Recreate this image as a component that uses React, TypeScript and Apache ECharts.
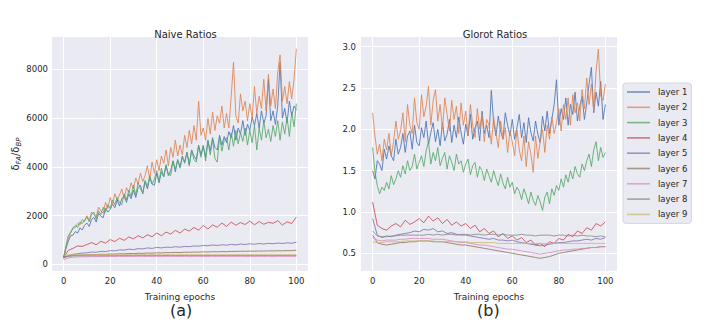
import React, { useEffect, useRef } from "react";
import * as echarts from "echarts";

// ---------- tick labels ----------
const xTicks = [0, 20, 40, 60, 80, 100];
const naiveYTicks = [0, 2000, 4000, 6000, 8000];
const glorotYTicks = [0.5, 1.0, 1.5, 2.0, 2.5, 3.0];

const layerNames = ["layer 1", "layer 2", "layer 3", "layer 4", "layer 5", "layer 6", "layer 7", "layer 8", "layer 9"];
const layerColors = ["#4c72b0", "#dd8452", "#55a868", "#c44e52", "#8172b3", "#937860", "#da8bc3", "#8c8c8c", "#ccb974"];

// ---------- Naive ratios (epochs 0..100, step 1 for layers 1-3) ----------
const naiveL1 = [
  300, 650, 950, 1180, 1200, 1350, 1290, 1500, 1420, 1610,
  1700, 1560, 1850, 1930, 1740, 2100, 1980, 1920, 2300, 2150,
  2250, 2480, 2330, 2650, 2400, 2700, 2820, 2550, 2900, 2700,
  3050, 2750, 3150, 3250, 2900, 3400, 3100, 3550, 3300, 3250,
  3750, 3350, 3800, 3600, 4050, 3650, 3850, 4250, 3800, 4300,
  4000, 4450, 4200, 4600, 4100, 4700, 4450, 4300, 4900, 4500,
  4850, 4400, 5100, 4650, 5200, 4800, 4700, 5300, 4900, 5250,
  5000, 5450, 5200, 5700, 5100, 5600, 5350, 5900, 5300, 5750,
  5500, 6050, 5700, 6200, 5600, 6300, 5800, 6100, 7600, 5900,
  6300, 5750, 6500, 8300, 6000, 6400, 5800, 6700, 6100, 6500,
  6350,
];
const naiveL2 = [
  300, 720, 1080, 1280, 1480, 1520, 1680, 1620, 1850, 1760,
  2000, 1800, 2150, 2050, 1950, 2350, 2200, 2100, 2550, 2300,
  2750, 2450, 2900, 2650, 2850, 3100, 2700, 3150, 2950, 3350,
  3100, 3550, 3300, 3750, 3400, 3650, 4050, 3500, 4200, 3750,
  4300, 3850, 4450, 4150, 4700, 4050, 4800, 4400, 5100, 4450,
  4900, 4500, 5300, 4800, 5500, 4950, 5700, 5100, 6700, 5300,
  5600, 5100, 6000, 5350, 6250, 5500, 6100, 5800, 6500, 5600,
  6200, 5600, 6900, 8300, 6100, 5800, 7000, 6300, 6700, 5900,
  6600, 6000, 7300, 6200, 6900, 6400, 7600, 6300, 7800, 6500,
  7200, 6400, 7900, 8600, 6700, 7300, 6600, 7500, 6800, 7600,
  8850,
];
const naiveL3 = [
  250, 760, 1180, 1330, 1500, 1600, 1520, 1750, 1680, 1830,
  1950, 1750, 2050, 2150, 1850, 2200, 2050, 2350, 2150, 2450,
  2300, 2650, 2450, 2750, 2550, 2450, 2900, 2650, 3050, 2800,
  3250, 2850, 3350, 3100, 2950, 3450, 3200, 3650, 3300, 3500,
  3850, 3400, 3950, 3600, 4100, 3700, 3650, 4250, 3900, 4300,
  3950, 4400, 4150, 4600, 4050, 4700, 4300, 4200, 4850, 4400,
  4900, 4250, 5050, 4500, 5150, 4350, 4200, 5250, 4650, 5100,
  5200, 4700, 5400, 4850, 5500, 4950, 5400, 5050, 5600, 4900,
  5500, 5000, 5700, 4700, 5600, 5100, 5900, 5200, 5550, 5050,
  5700, 5250, 5900, 5100, 5850, 5350, 6050, 5250, 6250, 5650,
  6600,
];
// layers 4-9: every 2 epochs (0, 2, ..., 100)
const naiveL4 = [
  300, 580, 660, 760, 740, 820, 900, 810, 950, 880,
  1020, 940, 1080, 990, 1130, 1050, 1180, 1090, 1220, 1140,
  1290, 1180, 1330, 1250, 1400, 1290, 1450, 1370, 1520, 1410,
  1600, 1460, 1620, 1530, 1700, 1560, 1740, 1610, 1720, 1640,
  1780, 1630, 1760, 1650, 1730, 1690, 1800, 1620, 1750, 1680,
  1950,
];
const naiveL5 = [
  280, 360, 420, 440, 470, 480, 510, 500, 540, 530,
  570, 560, 600, 590, 630, 610, 650, 640, 680, 660,
  700, 680, 710, 700, 730, 710, 740, 730, 760, 750,
  780, 770, 800, 780, 810, 790, 830, 800, 840, 820,
  850, 830, 860, 840, 870, 850, 880, 860, 890, 870,
  920,
];
const naiveL6 = [
  330, 350, 370, 380, 390, 400, 410, 405, 420, 415,
  430, 425, 440, 435, 450, 445, 460, 455, 470, 465,
  480, 475, 490, 485, 495, 490, 505, 500, 510, 505,
  520, 515, 525, 520, 530, 525, 540, 535, 545, 540,
  550, 545, 555, 550, 560, 555, 565, 560, 570, 565,
  590,
];
const naiveL7 = [
  200, 270, 300, 310, 320, 315, 325, 320, 330, 325,
  330, 328, 335, 330, 334, 330, 336, 332, 334, 330,
  335, 331, 336, 332, 334, 330, 336, 331, 335, 330,
  334, 330, 336, 332, 335, 330, 334, 331, 336, 332,
  335, 330, 334, 331, 336, 330, 335, 332, 334, 330,
  336,
];
const naiveL8 = [
  280, 330, 350, 355, 360, 358, 362, 360, 365, 362,
  366, 363, 368, 364, 367, 365, 369, 366, 368, 365,
  370, 366, 369, 367, 371, 368, 370, 366, 369, 367,
  371, 368, 370, 366, 369, 367, 371, 368, 370, 366,
  369, 367, 371, 368, 370, 366, 369, 367, 371, 368,
  370,
];
const naiveL9 = [
  380, 395, 400, 402, 398, 401, 399, 403, 400, 398,
  402, 400, 399, 401, 403, 398, 400, 402, 399, 401,
  400, 398, 402, 400, 399, 401, 403, 398, 400, 402,
  399, 401, 400, 398, 402, 400, 399, 401, 403, 398,
  400, 402, 399, 401, 400, 398, 402, 400, 399, 401,
  400,
];

// ---------- Glorot ratios ----------
const glorotL1 = [
  1.50, 1.40, 1.62, 1.58, 1.50, 1.76, 1.64, 1.80, 1.68, 1.62,
  1.88, 1.70, 1.78, 1.95, 1.72, 1.92, 1.98, 1.76, 2.05, 1.84,
  1.80, 2.02, 1.90, 2.10, 1.82, 1.96, 2.08, 1.85, 2.00, 1.80,
  2.08, 1.86, 1.94, 2.12, 1.84, 2.05, 1.90, 2.15, 1.96, 1.82,
  2.06, 1.92, 2.18, 1.88, 2.02, 2.10, 1.86, 2.22, 1.95, 2.05,
  1.90, 2.47, 2.08, 1.92, 2.16, 1.98, 1.88, 2.20, 2.05, 1.92,
  2.12, 1.88, 2.02, 2.18, 1.90, 2.08, 1.84, 2.14, 1.96, 1.86,
  2.10, 1.94, 1.84, 2.16, 1.98, 2.22, 1.95, 2.12, 2.30, 2.60,
  2.05, 2.25, 2.12, 2.38, 2.05, 2.30, 2.18, 2.45, 2.10, 2.28,
  2.40, 2.12, 2.32, 2.55, 2.75, 2.20, 2.45, 2.28, 2.58, 2.12,
  2.30,
];
const glorotL2 = [
  2.20, 1.92, 1.70, 1.82, 1.62, 1.88, 1.75, 1.95, 1.68, 1.85,
  2.10, 1.88, 1.98, 2.20, 1.85, 2.30, 2.05, 1.95, 2.38, 2.08,
  2.00, 2.42, 2.15, 2.28, 2.52, 2.05, 2.35, 2.48, 2.10, 2.30,
  2.00, 2.38, 2.18, 1.98, 2.35, 2.12, 2.28, 1.95, 2.32, 2.05,
  2.22, 1.92, 2.30, 2.05, 1.90, 2.25, 2.00, 2.18, 1.85, 2.12,
  2.05, 1.82, 2.15, 1.95, 1.78, 2.10, 1.88, 2.02, 1.72, 1.98,
  1.85, 1.68, 2.00, 1.75, 1.62, 1.92, 1.55, 1.85, 1.70, 1.48,
  1.92, 1.65, 1.85, 2.00, 1.72, 2.05, 1.88, 2.15, 1.95, 2.08,
  2.25, 1.98, 2.30, 2.12, 2.38, 2.05, 2.42, 2.20, 2.32, 2.10,
  2.48, 2.25, 2.62, 2.30, 2.55, 2.22, 2.70, 2.97, 2.40, 2.35,
  2.55,
];
const glorotL3 = [
  1.78, 1.48, 1.32, 1.22, 1.30, 1.26, 1.36, 1.28, 1.44, 1.33,
  1.40, 1.50, 1.42, 1.56, 1.46, 1.62, 1.50, 1.55, 1.70, 1.52,
  1.60, 1.68, 1.55, 1.74, 1.85, 1.58, 1.72, 1.62, 1.78, 1.56,
  1.65, 1.72, 1.52, 1.68, 1.60, 1.50, 1.70, 1.58, 1.62, 1.48,
  1.58, 1.64, 1.45, 1.56, 1.60, 1.42, 1.55, 1.50, 1.38, 1.52,
  1.44, 1.36, 1.50, 1.40, 1.32, 1.46, 1.35, 1.28, 1.42, 1.30,
  1.36, 1.22, 1.30, 1.25, 1.15, 1.28, 1.20, 1.10, 1.24, 1.14,
  1.08, 1.20, 1.12, 1.02, 1.18, 1.24, 1.10, 1.28, 1.20, 1.32,
  1.26, 1.40, 1.30, 1.45, 1.36, 1.50, 1.40, 1.55, 1.46, 1.42,
  1.58, 1.50, 1.62, 1.70, 1.55, 1.75, 1.85, 1.62, 1.78, 1.66,
  1.72,
];
const glorotL4 = [
  1.12, 0.84, 0.80, 0.78, 0.83, 0.86, 0.82, 0.90, 0.85, 0.88,
  0.92, 0.87, 0.95, 0.89, 0.93, 0.86, 0.91, 0.84, 0.88, 0.83,
  0.86, 0.80, 0.84, 0.76, 0.80, 0.74, 0.77, 0.70, 0.74, 0.68,
  0.71, 0.66, 0.69, 0.63, 0.66, 0.60, 0.62, 0.58, 0.64, 0.62,
  0.68, 0.66, 0.73, 0.70, 0.77, 0.74, 0.81, 0.78, 0.86, 0.83,
  0.88,
];
const glorotL5 = [
  0.92, 0.72, 0.69, 0.71, 0.70, 0.72, 0.73, 0.74, 0.75, 0.77,
  0.76, 0.79, 0.78, 0.80, 0.76, 0.77, 0.74, 0.75, 0.73, 0.72,
  0.72, 0.71, 0.70, 0.69, 0.68, 0.67, 0.68, 0.66, 0.66, 0.65,
  0.66, 0.64, 0.63, 0.62, 0.61, 0.60, 0.59, 0.60, 0.61, 0.62,
  0.63, 0.63, 0.64, 0.65, 0.65, 0.66, 0.67, 0.66, 0.68, 0.67,
  0.69,
];
const glorotL6 = [
  0.72, 0.63, 0.61, 0.60, 0.61, 0.62, 0.63, 0.63, 0.64, 0.64,
  0.65, 0.65, 0.65, 0.64, 0.64, 0.64, 0.63, 0.62, 0.61, 0.60,
  0.60, 0.59, 0.58, 0.57, 0.56, 0.55, 0.54, 0.53, 0.52, 0.51,
  0.50, 0.49, 0.48, 0.47, 0.46, 0.45, 0.44, 0.45, 0.46, 0.48,
  0.50, 0.51, 0.52, 0.53, 0.54, 0.55, 0.56, 0.57, 0.57, 0.58,
  0.58,
];
const glorotL7 = [
  0.69, 0.66, 0.65, 0.66, 0.66, 0.66, 0.67, 0.67, 0.68, 0.68,
  0.68, 0.68, 0.68, 0.67, 0.67, 0.67, 0.66, 0.65, 0.64, 0.63,
  0.63, 0.62, 0.61, 0.60, 0.60, 0.59, 0.58, 0.57, 0.56, 0.55,
  0.55, 0.54, 0.53, 0.52, 0.51, 0.50, 0.49, 0.50, 0.51, 0.52,
  0.53, 0.54, 0.54, 0.55, 0.55, 0.56, 0.56, 0.57, 0.57, 0.58,
  0.58,
];
const glorotL8 = [
  0.77, 0.71, 0.70, 0.70, 0.71, 0.71, 0.72, 0.72, 0.72, 0.72,
  0.72, 0.72, 0.73, 0.72, 0.73, 0.72, 0.73, 0.73, 0.72, 0.73,
  0.73, 0.72, 0.73, 0.73, 0.72, 0.73, 0.73, 0.72, 0.73, 0.72,
  0.72, 0.72, 0.73, 0.72, 0.72, 0.71, 0.72, 0.72, 0.72, 0.71,
  0.72, 0.72, 0.71, 0.72, 0.71, 0.72, 0.71, 0.71, 0.70, 0.71,
  0.70,
];
const glorotL9 = [
  0.64, 0.63, 0.63, 0.64, 0.64, 0.64, 0.64, 0.65, 0.65, 0.65,
  0.65, 0.65, 0.65, 0.65, 0.64, 0.64, 0.64, 0.64, 0.64, 0.64,
  0.64, 0.63, 0.63, 0.63, 0.63, 0.63, 0.63, 0.62, 0.62, 0.62,
  0.62, 0.62, 0.62, 0.62, 0.62, 0.62, 0.62, 0.62, 0.62, 0.62,
  0.62, 0.62, 0.62, 0.62, 0.62, 0.62, 0.62, 0.62, 0.62, 0.62,
  0.62,
];

const naiveSeries = [naiveL1, naiveL2, naiveL3, naiveL4, naiveL5, naiveL6, naiveL7, naiveL8, naiveL9];
const glorotSeries = [glorotL1, glorotL2, glorotL3, glorotL4, glorotL5, glorotL6, glorotL7, glorotL8, glorotL9];

const FONT = "DejaVu Sans";
const TXT = "#262626";
const BG = "#eaeaf2";

function toPairs(arr: number[]) {
  const step = 100 / (arr.length - 1);
  return arr.map((v, i) => [i * step, v]);
}

function buildOption() {
  const gridCommon = { top: 37, height: 234, width: 256, show: true, backgroundColor: BG, borderWidth: 0 };
  const xAxisCommon = (gridIndex: number) => ({
    type: "value",
    gridIndex,
    min: -5,
    max: 105,
    name: "Training epochs",
    nameLocation: "middle",
    nameGap: 21,
    nameTextStyle: { fontFamily: FONT, fontSize: 9, color: TXT },
    axisLine: { show: false },
    axisTick: { show: false, customValues: xTicks },
    axisLabel: { customValues: xTicks, fontFamily: FONT, fontSize: 8.5, color: TXT, margin: 5 },
    splitLine: { show: true, lineStyle: { color: "#ffffff", width: 1 } },
  });

  const series: any[] = [];
  const addSeries = (arr: number[], i: number, axis: number) => {
    series.push({
      type: "line",
      name: layerNames[i],
      xAxisIndex: axis,
      yAxisIndex: axis,
      data: toPairs(arr),
      symbol: "none",
      lineStyle: { width: 1, color: layerColors[i], opacity: 0.85 },
      itemStyle: { color: layerColors[i] },
      silent: true,
    });
  };
  naiveSeries.forEach((arr, i) => addSeries(arr, i, 0));
  glorotSeries.forEach((arr, i) => addSeries(arr, i, 1));

  return {
    animation: false,
    backgroundColor: "#ffffff",
    title: [
      { text: "Naive Ratios", left: 180.5, top: 24, textAlign: "center", textStyle: { fontFamily: FONT, fontSize: 10, fontWeight: "normal", color: TXT } },
      { text: "Glorot Ratios", left: 490, top: 24, textAlign: "center", textStyle: { fontFamily: FONT, fontSize: 10, fontWeight: "normal", color: TXT } },
    ],
    grid: [
      { ...gridCommon, left: 52 },
      { ...gridCommon, left: 361 },
    ],
    xAxis: [xAxisCommon(0), xAxisCommon(1)],
    yAxis: [
      {
        type: "value",
        gridIndex: 0,
        min: -267,
        max: 9333,
        name: "{d|δ}{s|FA}{d|/δ}{s|BP}",
        nameLocation: "middle",
        nameRotate: 90,
        nameGap: 30,
        nameTextStyle: {
          rich: {
            d: { fontFamily: FONT, fontSize: 10, color: TXT, lineHeight: 14, verticalAlign: "middle" },
            s: { fontFamily: FONT, fontSize: 7, fontStyle: "italic", color: TXT, lineHeight: 14, verticalAlign: "bottom" },
          },
        },
        axisLine: { show: false },
        axisTick: { show: false, customValues: naiveYTicks },
        axisLabel: {
          customValues: naiveYTicks,
          fontFamily: FONT,
          fontSize: 8.5,
          color: TXT,
          margin: 4,
          formatter: (v: number) => String(Math.round(v)),
        },
        splitLine: { show: true, lineStyle: { color: "#ffffff", width: 1 } },
      },
      {
        type: "value",
        gridIndex: 1,
        min: 0.286,
        max: 3.117,
        axisLine: { show: false },
        axisTick: { show: false, customValues: glorotYTicks },
        axisLabel: {
          customValues: glorotYTicks,
          fontFamily: FONT,
          fontSize: 8.5,
          color: TXT,
          margin: 5,
          formatter: (v: number) => v.toFixed(1),
        },
        splitLine: { show: true, lineStyle: { color: "#ffffff", width: 1 } },
      },
    ],
    legend: {
      orient: "vertical",
      left: 623,
      top: 83,
      data: layerNames.map((n) => ({ name: n, icon: "rect" })),
      itemWidth: 23,
      itemHeight: 1.6,
      itemGap: 5.3,
      padding: [4, 4, 4, 4],
      backgroundColor: BG,
      borderColor: "#d6d6dc",
      borderWidth: 1,
      borderRadius: 3,
      selectedMode: false,
      itemStyle: { opacity: 0.75 },
      lineStyle: { opacity: 0 },
      textStyle: { fontFamily: FONT, fontSize: 8.5, color: TXT, lineHeight: 10, height: 10, padding: [0, 0, 0, 3] },
    },
    graphic: [
      { type: "text", left: 170, top: 302, style: { text: "(a)", font: `16px '${FONT}'`, fill: TXT } },
      { type: "text", left: 477, top: 302, style: { text: "(b)", font: `16px '${FONT}'`, fill: TXT } },
    ],
    series,
  };
}

export default function App() {
  const ref = useRef<HTMLDivElement>(null);
  useEffect(() => {
    if (!ref.current) return;
    const chart = echarts.init(ref.current, null, { renderer: "svg" });
    chart.setOption(buildOption() as any);
    return () => chart.dispose();
  }, []);
  return <div ref={ref} style={{ width: 723, height: 320, position: "absolute", left: 0, top: 0 }} />;
}
